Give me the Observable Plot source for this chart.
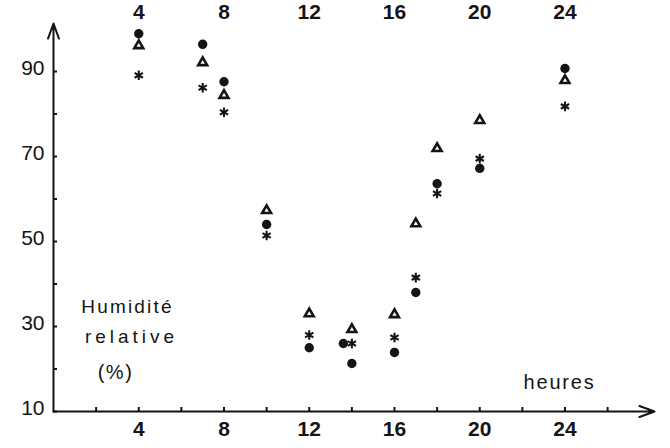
<!DOCTYPE html>
<html>
<head>
<meta charset="utf-8">
<script src="https://cdn.jsdelivr.net/npm/d3@7"></script>
<script src="https://cdn.jsdelivr.net/npm/@observablehq/plot@0.6"></script>
<style>
  html, body { margin: 0; padding: 0; background: #fff; }
</style>
</head>
<body>
<div id="chart"></div>
<script>
// Hours of measurement
const hours = [4, 7, 8, 10, 12, 14, 16, 17, 18, 20, 24];
// Relative humidity (%) for the three series
const circles   = [98.9, 96.4, 87.6, 54.0, 25.0, 21.3, 23.9, 38.0, 63.6, 67.2, 90.7];
const triangles = [96.1, 92.1, 84.4, 57.3, 33.0, 29.3, 32.8, 54.2, 71.9, 78.5, 87.9];
const asterisks = [89.1, 86.2, 80.4, 51.4, 28.0, 26.0, 27.4, 41.5, 61.3, 69.5, 81.8];
// Extra isolated filled point near 14 h
const extraHours = [13.6];
const extraCircles = [26.0];

// Tick values / labels
const xLabelTicks = [4, 8, 12, 16, 20, 24];
const xMinorTicks = [2, 4, 6, 8, 10, 12, 14, 16, 18, 20, 22, 24, 26];
const yLabelTicks = [10, 30, 50, 70, 90];
const yMinorTicks = [10, 20, 30, 40, 50, 60, 70, 80, 90];
const xDomain = [0, 28.2];
const yDomain = [10, 101.3];

const rows = (vals, xs) => xs.map((h, i) => ({hour: h, value: vals[i]}));
const circleData = rows(circles, hours).concat(rows(extraCircles, extraHours));
const triangleData = rows(triangles, hours);
const asteriskData = rows(asterisks, hours);

const ink = "#141414";
const font = "Liberation Sans, Arial, sans-serif";

const chart = Plot.plot({
  width: 670,
  height: 448,
  marginLeft: 53,
  marginRight: 16,
  marginTop: 23,
  marginBottom: 37,
  style: {fontFamily: font, background: "#fff", color: ink},
  x: {domain: xDomain},
  y: {domain: yDomain},
  marks: [
    // minor ticks (inward)
    Plot.axisY({ticks: yMinorTicks, tickSize: -4, text: null, label: null, strokeWidth: 2, stroke: ink}),
    Plot.axisX({ticks: xMinorTicks, tickSize: -4, text: null, label: null, strokeWidth: 2, stroke: ink}),
    // tick labels
    Plot.axisY({ticks: yLabelTicks, tickSize: 0, tickPadding: 9, fontSize: 21, dy: -3, label: null, fill: ink}),
    Plot.axisX({ticks: xLabelTicks, tickSize: 0, tickPadding: 10, fontSize: 21, fontWeight: "bold", label: null, fill: ink}),
    Plot.axisX({anchor: "top", ticks: xLabelTicks, tickSize: 0, tickPadding: 5, fontSize: 21, fontWeight: "bold", label: null, fill: ink}),
    // axes with arrows
    Plot.arrow([0], {x1: xDomain[0], x2: xDomain[0], y1: yDomain[0], y2: yDomain[1], stroke: ink, strokeWidth: 2, headLength: 12, headAngle: 40}),
    Plot.arrow([0], {x1: xDomain[0], x2: xDomain[1], y1: yDomain[0], y2: yDomain[0], stroke: ink, strokeWidth: 2, headLength: 12, headAngle: 40}),
    // data
    Plot.dot(circleData, {x: "hour", y: "value", r: 4.7, fill: ink, stroke: "none"}),
    Plot.dot(triangleData, {x: "hour", y: "value", symbol: "triangle", r: 3.3, fill: "none", stroke: ink, strokeWidth: 2.6}),
    Plot.dot(asteriskData, {x: "hour", y: "value", symbol: "asterisk", r: 4.5, fill: "none", stroke: ink, strokeWidth: 2.1}),
    // annotations
    Plot.text(["Humidité"], {frameAnchor: "top-left", dx: 74, dy: 289, textAnchor: "middle", lineAnchor: "bottom", fontSize: 19, fill: ink}),
    Plot.text(["relative"], {frameAnchor: "top-left", dx: 78, dy: 319, textAnchor: "middle", lineAnchor: "bottom", fontSize: 19, fill: ink}),
    Plot.text(["(%)"], {frameAnchor: "top-left", dx: 62, dy: 355, textAnchor: "middle", lineAnchor: "bottom", fontSize: 20, fill: ink}),
    Plot.text(["heures"], {frameAnchor: "top-left", dx: 506, dy: 365, textAnchor: "middle", lineAnchor: "bottom", fontSize: 20, fill: ink})
  ]
});
// letter spacing for the annotation texts
const spacing = {"Humidité": 2.2, "relative": 4, "(%)": 1.5, "heures": 1.8};
d3.select(chart).selectAll("text").each(function() {
  const t = this.textContent;
  if (spacing[t] != null) this.style.letterSpacing = spacing[t] + "px";
});
document.getElementById("chart").appendChild(chart);
</script>
</body>
</html>
